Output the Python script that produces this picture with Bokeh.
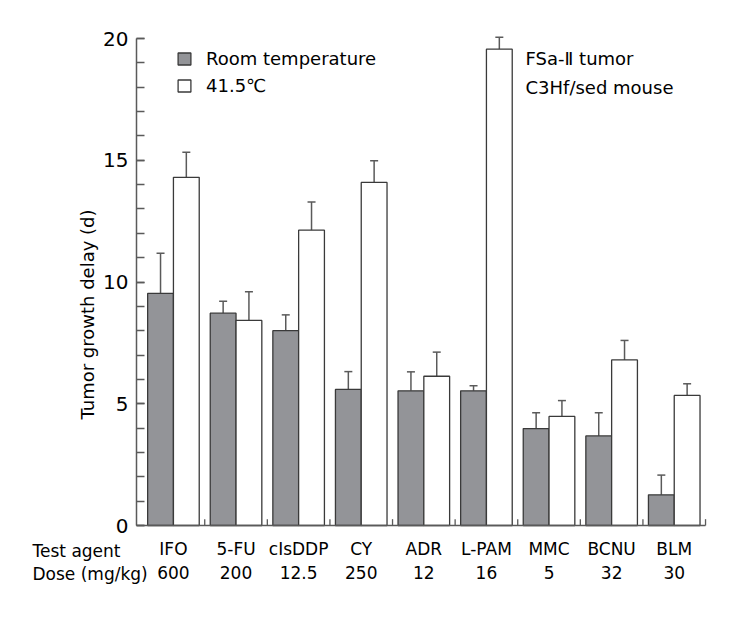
import math
from bokeh.plotting import figure
from bokeh.models import (Range1d, FixedTicker, Legend, LegendItem, Whisker,
                          ColumnDataSource, Label, TeeHead)
from bokeh.embed import file_html
from bokeh.resources import INLINE

# ---------------- data ----------------
agents = ["IFO", "5-FU", "cIsDDP", "CY", "ADR", "L-PAM", "MMC", "BCNU", "BLM"]
doses = ["600", "200", "12.5", "250", "12", "16", "5", "32", "30"]
room_mean = [9.53, 8.72, 8.00, 5.59, 5.53, 5.53, 3.98, 3.68, 1.26]
room_err = [1.65, 0.49, 0.65, 0.73, 0.78, 0.21, 0.65, 0.95, 0.81]
hot_mean = [14.30, 8.42, 12.13, 14.09, 6.13, 19.56, 4.48, 6.80, 5.34]
hot_err = [1.03, 1.18, 1.16, 0.89, 0.99, 0.49, 0.65, 0.80, 0.48]
y_ticks = [0, 5, 10, 15, 20]
y_minor = list(range(0, 21))
series_names = ["Room temperature", "41.5\u2103"]
note_lines = ["FSa-\u2161 tumor", "C3Hf/sed mouse"]
row_titles = ["Test agent", "Dose (mg/kg)"]
y_title = "Tumor growth delay (d)"

FONT = "DejaVu Sans"
GRAY = "#939498"
EDGE = "#3a3a3a"
AX = "#5a5a5a"

W, H = 732, 602
PX_X = 62.6     # pixels per category unit
PX_Y = 24.35    # pixels per day
X0_PX, Y0_PX = 136, 525   # where the axes meet

n = len(agents)
centers = [i + 0.5 for i in range(n)]
bw = 0.412
off = 0.206
x_lo, x_hi = -0.09, float(n)
y_lo, y_hi = 0, 20

xs = x_lo - X0_PX / PX_X
ys = -(H - Y0_PX) / PX_Y
x_range = Range1d(xs, xs + W / PX_X)
y_range = Range1d(ys, ys + H / PX_Y)

room_src = ColumnDataSource(dict(x=[c - off for c in centers], top=room_mean,
                                 upper=[m + e for m, e in zip(room_mean, room_err)]))
hot_src = ColumnDataSource(dict(x=[c + off for c in centers], top=hot_mean,
                                upper=[m + e for m, e in zip(hot_mean, hot_err)]))

p = figure(width=W, height=H, output_backend="svg", toolbar_location=None,
           x_range=x_range, y_range=y_range,
           min_border_left=0, min_border_right=0, min_border_top=0,
           min_border_bottom=0)
p.outline_line_color = None
p.xgrid.visible = False
p.ygrid.visible = False
p.background_fill_color = "white"

# error bars
for src in (room_src, hot_src):
    w = Whisker(source=src, base="x", lower="top", upper="upper", dimension="height",
                line_color=AX, line_width=1.5, lower_head=None,
                upper_head=TeeHead(size=8, line_color=AX, line_width=1.5))
    p.add_layout(w)

r_room = p.vbar(x="x", top="top", width=bw, bottom=0, source=room_src,
                fill_color=GRAY, line_color=EDGE, line_width=1.3)
r_hot = p.vbar(x="x", top="top", width=bw, bottom=0, source=hot_src,
               fill_color="white", line_color=EDGE, line_width=1.3)

# separator ticks on x axis
seps = [i + 1 for i in range(n)]
p.segment(x0=seps, y0=[0] * n, x1=seps, y1=[0.26] * n, line_color=AX, line_width=1.3)

# y axis
p.yaxis.fixed_location = x_lo
p.yaxis.bounds = (y_lo, y_hi)
p.yaxis.ticker = FixedTicker(ticks=y_ticks, minor_ticks=y_minor)
p.yaxis.major_tick_in = 8
p.yaxis.major_tick_out = 0
p.yaxis.minor_tick_in = 8
p.yaxis.minor_tick_out = 0
p.yaxis.major_label_standoff = 8
p.yaxis.major_label_text_font = FONT
p.yaxis.major_label_text_font_size = "20px"
p.yaxis.major_label_text_color = "black"
p.yaxis.axis_line_color = AX
p.yaxis.axis_line_width = 1.5
p.yaxis.major_tick_line_color = AX
p.yaxis.minor_tick_line_color = AX
p.yaxis.major_tick_line_width = 1.3
p.yaxis.minor_tick_line_width = 1.3

# x axis
p.xaxis.fixed_location = 0
p.xaxis.bounds = (x_lo, x_hi)
p.xaxis.ticker = FixedTicker(ticks=centers)
p.xaxis.major_label_overrides = {c: f"{a}\n{d}" for c, a, d in zip(centers, agents, doses)}
p.xaxis.major_tick_line_color = None
p.xaxis.minor_tick_line_color = None
p.xaxis.major_tick_in = 0
p.xaxis.major_tick_out = 0
p.xaxis.major_label_standoff = 13
p.xaxis.major_label_text_font = FONT
p.xaxis.major_label_text_font_size = "17px"
p.xaxis.major_label_text_line_height = 1.2
p.xaxis.major_label_text_color = "black"
p.xaxis.axis_line_color = AX
p.xaxis.axis_line_width = 1.5

# legend
legend = Legend(items=[LegendItem(label=series_names[0], renderers=[r_room]),
                       LegendItem(label=series_names[1], renderers=[r_hot])],
                location=(176, H - 48 - 48), glyph_width=16, glyph_height=15,
                label_text_font=FONT, label_text_font_size="18px",
                label_text_color="black",
                label_standoff=14, spacing=6, padding=0, margin=0,
                border_line_color=None, background_fill_alpha=0)
p.add_layout(legend)

# notes at top right
for k, t in enumerate(note_lines):
    p.add_layout(Label(x=525, y=H - 58 - 29 * k, x_units="screen", y_units="screen",
                       text=t, text_font=FONT, text_font_size="18px",
                       text_baseline="middle", text_align="left", text_color="black"))

# row titles at bottom left
for k, t in enumerate(row_titles):
    p.add_layout(Label(x=32, y=H - 550 - 23 * k, x_units="screen", y_units="screen",
                       text=t, text_font=FONT, text_font_size="17px",
                       text_baseline="middle", text_align="left", text_color="black"))

# y title
p.add_layout(Label(x=87, y=H - 314, x_units="screen", y_units="screen", angle=math.pi / 2,
                   text=y_title, text_font=FONT, text_font_size="18px",
                   text_baseline="middle", text_align="center", text_color="black"))

open("out.html", "w").write(file_html(p, INLINE))
